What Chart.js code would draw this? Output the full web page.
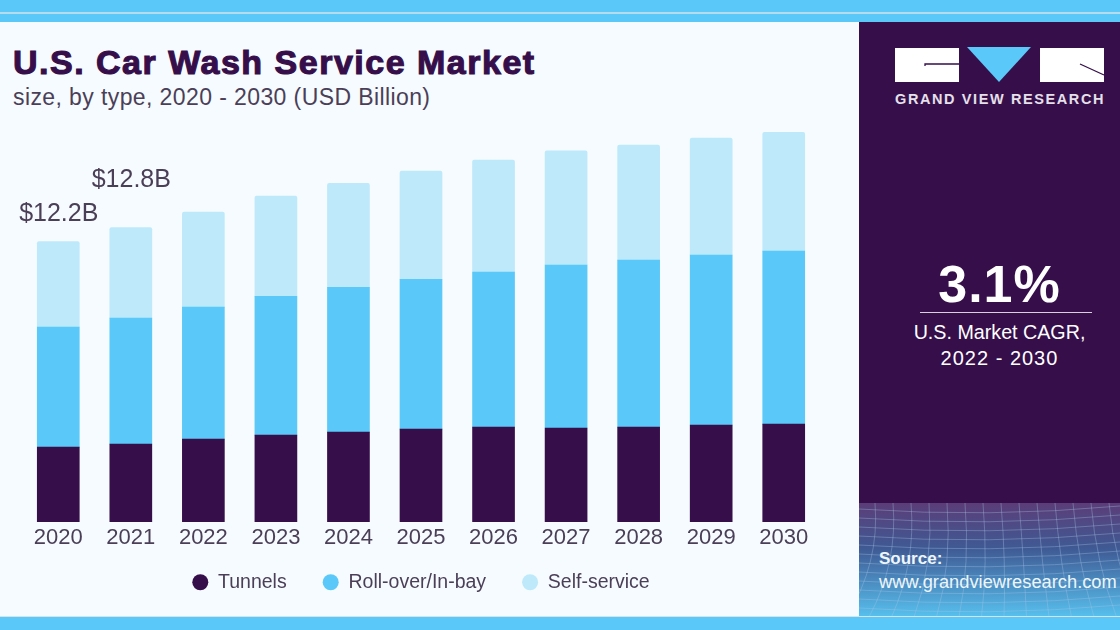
<!DOCTYPE html>
<html>
<head>
<meta charset="utf-8">
<script src="https://cdn.jsdelivr.net/npm/chart.js@4"></script>
<style>
html, body { margin: 0; padding: 0; }
body { width: 1120px; height: 630px; overflow: hidden; position: relative; background: #f5fbfe; font-family: "Liberation Sans", sans-serif; }
.band { position: absolute; left: 0; width: 1120px; background: #5ac8f8; }
#top { top: 0; height: 22px; }
#topLine { position: absolute; left: 0; top: 12px; width: 1120px; height: 2px; background: #b5dcec; }
#bottom { top: 616px; height: 14px; border-top: 1px solid #d6e4ea; box-sizing: border-box; }
#panel { position: absolute; left: 859px; top: 22px; width: 261px; height: 594px; background: #350e4a; overflow: hidden; }
#panel svg.grid { position: absolute; left: 0; top: 481px; }
#title { position: absolute; left: 13px; top: 43px; font-size: 34px; font-weight: bold; color: #350e4a; letter-spacing: 1.5px; -webkit-text-stroke: 1.1px #350e4a; white-space: nowrap; }
#subtitle { position: absolute; left: 13px; top: 84px; font-size: 23px; letter-spacing: 0.4px; color: #4b3f58; white-space: nowrap; }
#wrap { position: absolute; left: 0; top: 0; width: 842px; height: 615px; }
.p { position: absolute; left: 0; width: 281px; text-align: center; color: #fff; white-space: nowrap; }
</style>
</head>
<body>
<div class="band" id="top"><div id="topLine"></div></div>
<div id="title">U.S. Car Wash Service Market</div>
<div id="subtitle">size, by type, 2020 - 2030 (USD Billion)</div>
<div id="wrap"><canvas id="myChart"></canvas></div>
<div id="panel">
  <svg class="grid" width="261" height="114" id="gridSvg"></svg>
  <svg style="position:absolute;left:36px;top:25px" width="212" height="36">
    <rect x="0" y="1" width="64" height="34" fill="#fff"/>
    <path d="M30 19 V17 H64" stroke="#350e4a" stroke-width="1.3" fill="none"/>
    <polygon points="72,0 136,0 104,35" fill="#5ac8f8"/>
    <rect x="145" y="1" width="64" height="34" fill="#fff"/>
    <path d="M185 17 L209 28" stroke="#350e4a" stroke-width="1.3" fill="none"/>
  </svg>
  <div class="p" id="brand" style="left:36px;width:auto;top:69px;font-size:14.5px;font-weight:bold;letter-spacing:1.6px;color:#e6e0ea">GRAND VIEW RESEARCH</div>
  <div class="p" id="cagr" style="top:232px;font-size:52px;font-weight:bold;letter-spacing:1px;left:0;width:281px">3.1%</div>
  <div style="position:absolute;left:61px;top:290px;width:172px;height:1px;background:#d8d0de"></div>
  <div class="p" style="top:299px;font-size:19.7px;left:0;width:281px">U.S. Market CAGR,</div>
  <div class="p" style="top:325px;font-size:20px;letter-spacing:1px;left:0;width:281px">2022 - 2030</div>
  <div class="p" style="left:20px;width:auto;top:527px;font-size:17px;font-weight:bold;color:#eef6fb">Source:</div>
  <div class="p" style="left:20px;width:auto;top:549px;font-size:18.3px;color:#eef6fb">www.grandviewresearch.com</div>
</div>
<div class="band" id="bottom"></div>
<script>
const years = ['2020', '2021', '2022', '2023', '2024', '2025', '2026', '2027', '2028', '2029', '2030'];
const tunnels = [3.26, 3.39, 3.61, 3.78, 3.91, 4.04, 4.13, 4.09, 4.13, 4.22, 4.26];
const rollOver = [5.22, 5.48, 5.74, 6.04, 6.30, 6.52, 6.74, 7.09, 7.26, 7.39, 7.52];
const selfService = [3.72, 3.93, 4.13, 4.35, 4.52, 4.70, 4.87, 4.96, 5.00, 5.09, 5.17];
const totalLabels = ['$12.2B', '$12.8B'];

// total labels above the first two bars
const totalsPlugin = {
    id: 'totals',
    beforeDraw(chart) {
        // the axis box was shrunk in afterFit, give the tick labels their room back
        chart.scales.x.bottom = chart.height;
    },
    afterDatasetsDraw(chart) {
        const ctx = chart.ctx;
        const bars = chart.getDatasetMeta(2).data;
        const offsets = [27, 48];
        ctx.save();
        ctx.font = '25px "Liberation Sans"';
        ctx.fillStyle = '#4b3f58';
        ctx.textAlign = 'center';
        ctx.textBaseline = 'middle';
        for (let i = 0; i < totalLabels.length; ++i) {
            ctx.fillText(totalLabels[i], bars[i].x + 0.5, bars[i].y - offsets[i]);
        }
        ctx.restore();
    }
};

const data = {
    labels: years,
    datasets: [
        { label: 'Tunnels', data: tunnels, backgroundColor: '#350e4a', borderSkipped: false },
        { label: 'Roll-over/In-bay', data: rollOver, backgroundColor: '#5ac8f8' },
        { label: 'Self-service', data: selfService, backgroundColor: '#bde9fb', borderRadius: { topLeft: 2, topRight: 2 } }
    ]
};

const config = {
    type: 'bar',
    data: data,
    plugins: [totalsPlugin],
    options: {
        responsive: false,
        animation: false,
        layout: { padding: { left: 22, right: 22, top: 0, bottom: 13 } },
        datasets: { bar: { barThickness: 42 } },
        scales: {
            x: {
                stacked: true,
                grid: { display: false },
                border: { display: false },
                ticks: { color: '#4b3f58', font: { family: 'Liberation Sans', size: 22 }, padding: -5, maxRotation: 0 },
                afterFit(scale) {
                    scale.height -= 10;
                }
            },
            y: {
                stacked: true,
                display: false,
                min: 0,
                max: 22.7
            }
        },
        plugins: {
            tooltip: { enabled: false },
            legend: {
                position: 'bottom',
                labels: {
                    usePointStyle: true,
                    pointStyle: 'circle',
                    pointStyleWidth: 16,
                    boxHeight: 11.3,
                    padding: 36,
                    color: '#4b3f58',
                    font: { family: 'Liberation Sans', size: 19.5 }
                }
            }
        }
    }
};

const canvas = document.getElementById('myChart');
canvas.width = 842;
canvas.height = 615;
const myChart = new Chart(canvas, config);

// bottom backdrop of the side panel
function drawGrid() {
    const svg = document.getElementById('gridSvg');
    let s = '<defs><linearGradient id="g" x1="0" y1="0" x2="0" y2="1">' +
        '<stop offset="0" stop-color="#5b3d78"/><stop offset="0.4" stop-color="#3f5a94"/><stop offset="1" stop-color="#57c0ee"/>' +
        '</linearGradient></defs><rect width="261" height="114" fill="url(#g)"/>';
    for (let y = 6; y < 114; y += 9) {
        s += '<path d="M0 ' + y + ' Q130 ' + (y + 9) + ' 261 ' + (y - 3) + '" stroke="#a9c6e6" stroke-opacity="0.35" fill="none"/>';
    }
    for (let x = -20; x < 290; x += 18) {
        s += '<path d="M' + x + ' 0 Q' + (x + 5) + ' 60 ' + (x + (x - 130) * 0.25) + ' 114" stroke="#a9c6e6" stroke-opacity="0.35" fill="none"/>';
    }
    svg.innerHTML = s;
}
drawGrid();
</script>
</body>
</html>
